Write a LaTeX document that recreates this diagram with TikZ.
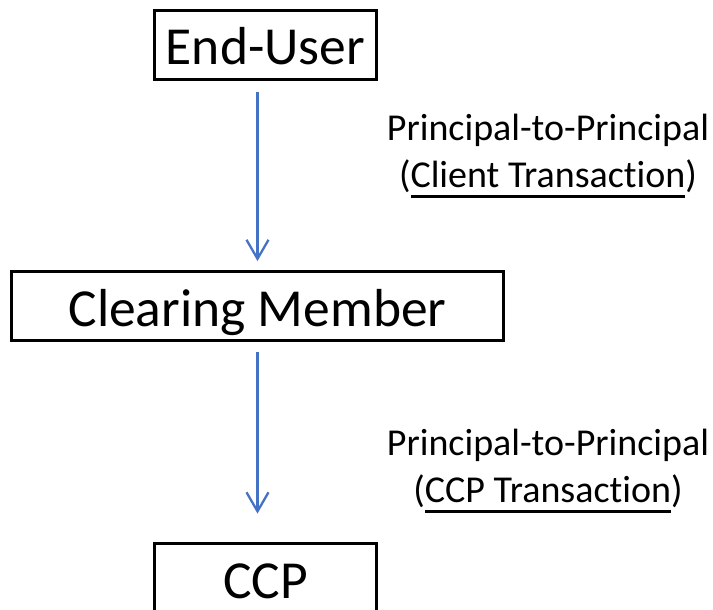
\documentclass[tikz,border=0pt]{standalone}
\usepackage{fontspec}
\setmainfont{Carlito}[Ligatures={NoCommon,NoRequired,NoContextual}]
\usetikzlibrary{arrows.meta}

\definecolor{flowblue}{RGB}{68,114,196}

% underline that sits below the text, not below the parentheses
\newcommand{\ulbar}[1]{\setbox0\hbox{#1}\rlap{\rule[-0.285em]{\wd0}{0.07em}}\box0}
% keep "t" and "i" apart (Carlito joins them otherwise)
\newcommand{\nolig}{\kern0pt}

\tikzset{
    party/.style={draw, line width=2.8pt, inner sep=0pt,
        minimum width=222pt, minimum height=69pt,
        text height=40pt, text depth=0pt,
        font=\fontsize{53.5}{64}\selectfont},
    wide/.style={minimum width=492pt},
    flow/.style={draw=flowblue, line width=2.3pt,
        -{Straight Barb[length=19pt, width=22pt, line width=2.3pt]}},
    tag/.style={anchor=base, inner sep=0pt,
        font=\fontsize{38}{47}\selectfont}
}

\begin{document}
\begin{tikzpicture}[x=1pt, y=-1pt]
    \useasboundingbox (0, 0) rectangle (713, 610);

    \node[party] (enduser) at (265.5, 45) {End-User};
    \node[party, wide] (member) at (257.5, 306) {Clearing Member};
    \node[party] (ccp) at (265.5, 578) {CCP};

    \draw[flow, shorten <=11.5pt, shorten >=9pt]
        (enduser.south -| member.north) -- (member.north);
    \draw[flow, shorten <=10pt, shorten >=28.5pt]
        (member.south) -- (ccp.north -| member.south);

    \node[tag] (ptpa) at (548, 140) {Principal-to-Principal};
    \node[tag] (clienttx) at ([yshift=-47pt]ptpa.base) {(\ulbar{Client Transact\nolig ion})};

    \node[tag] (ptpb) at (548, 455) {Principal-to-Principal};
    \node[tag] (ccptx) at ([yshift=-47pt]ptpb.base) {(\ulbar{CCP Transact\nolig ion})};
\end{tikzpicture}
\end{document}
